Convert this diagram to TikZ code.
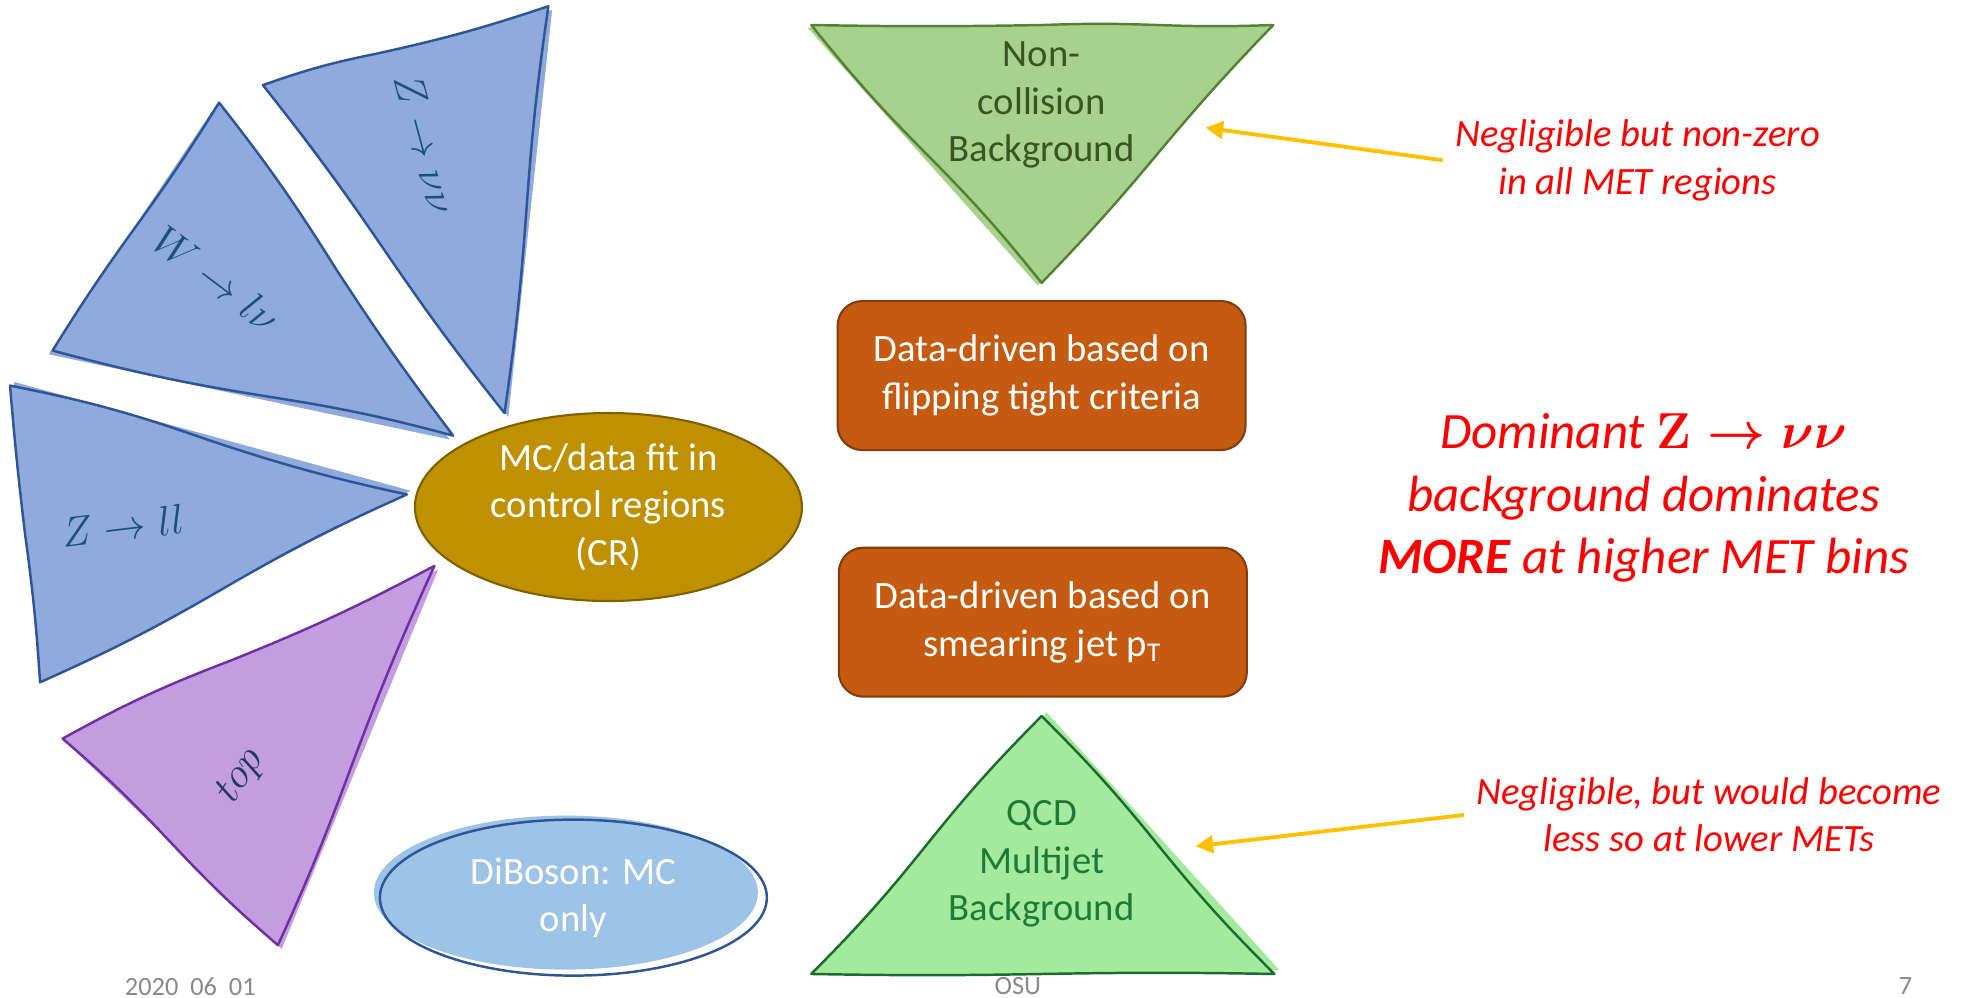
\documentclass[tikz,border=0pt]{standalone}
\usepackage{fontspec}
\setmainfont{Carlito}
\usepackage{amsmath}
\usepackage{tikz}
\usetikzlibrary{shapes.geometric,calc,arrows.meta}

\definecolor{zblue}{HTML}{8FAADC}
\definecolor{zline}{HTML}{2F5597}
\definecolor{zlabel}{HTML}{1F4E79}
\definecolor{topfill}{HTML}{C39DE0}
\definecolor{topline}{HTML}{7030A0}
\definecolor{toplabel}{HTML}{203864}
\definecolor{mcfill}{HTML}{BF9000}
\definecolor{mcline}{HTML}{7F6000}
\definecolor{dbfill}{HTML}{9DC3E6}
\definecolor{ncfill}{HTML}{A9D18E}
\definecolor{ncline}{HTML}{548235}
\definecolor{nctext}{HTML}{375623}
\definecolor{ddfill}{HTML}{C55A11}
\definecolor{ddline}{HTML}{843C0C}
\definecolor{qcdfill}{HTML}{A4EA9E}
\definecolor{qcdline}{HTML}{1E6B30}
\definecolor{qcdtext}{HTML}{1F7A38}
\definecolor{pointeryellow}{HTML}{FFC000}
\definecolor{footgray}{HTML}{898989}

\begin{document}
\begin{tikzpicture}[x=0.1252mm, y=-0.1252mm,
  sketch/.style={line width=0.7pt, line join=round},
  trilabel/.style={text=zlabel, font=\fontsize{13}{15}\selectfont},
  bodytext/.style={align=center, font=\fontsize{11}{13.5}\selectfont},
  ddbox/.style={bodytext, draw=ddline, fill=ddfill, text=white, rounded corners=7pt, minimum width=4.08cm, minimum height=1.49cm, line width=0.6pt},
  note/.style={align=center, text=red, font=\fontsize{11}{13.5}\selectfont\itshape},
  pointer/.style={pointeryellow, line width=1.1pt, -{Triangle[length=5pt,width=5pt]}},
  footer/.style={text=footgray, inner sep=0pt, font=\fontsize{7.5}{9}\selectfont}]

\useasboundingbox (0,0) rectangle (1568,797);

\coordinate (zvvA) at (210,68);  \coordinate (zvvB) at (438,5);   \coordinate (zvvC) at (403,330);
\coordinate (wlvA) at (175,82);  \coordinate (wlvB) at (362,348); \coordinate (wlvC) at (42,280);
\coordinate (zllA) at (8,308);   \coordinate (zllB) at (325,395); \coordinate (zllC) at (32,545);
\coordinate (topA) at (50,590);  \coordinate (topB) at (347,452); \coordinate (topC) at (222,755);
\coordinate (ncA) at (648,20);   \coordinate (ncB) at (1017,20);  \coordinate (ncC) at (832,226);
\coordinate (qcdA) at (832,572); \coordinate (qcdB) at (1018,778); \coordinate (qcdC) at (648,778);

\fill[zblue] ([shift={(3,3)}]zvvA) -- ([shift={(3,3)}]zvvB) -- ([shift={(3,3)}]zvvC) -- cycle;
\draw[sketch, draw=zline, fill=zblue] (zvvA) to[bend left=4] ($(zvvA)!0.4!(zvvB)$) to[bend right=3] (zvvB)
  to[bend right=2] ($(zvvB)!0.5!(zvvC)$) to[bend left=2] (zvvC)
  to[bend left=2] ($(zvvC)!0.5!(zvvA)$) to[bend right=2] (zvvA) -- cycle;
\fill[zblue] ([shift={(-3,3)}]wlvA) -- ([shift={(-3,3)}]wlvB) -- ([shift={(-3,3)}]wlvC) -- cycle;
\draw[sketch, draw=zline, fill=zblue] (wlvA) to[bend left=3] ($(wlvA)!0.5!(wlvB)$) to[bend right=2] (wlvB)
  to[bend right=3] ($(wlvB)!0.45!(wlvC)$) to[bend left=3] (wlvC)
  to[bend left=2] ($(wlvC)!0.5!(wlvA)$) to[bend right=2] (wlvA) -- cycle;
\fill[zblue] ([shift={(3,-3)}]zllA) -- ([shift={(3,-3)}]zllB) -- ([shift={(3,-3)}]zllC) -- cycle;
\draw[sketch, draw=zline, fill=zblue] (zllA) to[bend left=4] ($(zllA)!0.5!(zllB)$) to[bend right=3] (zllB)
  to[bend right=3] ($(zllB)!0.5!(zllC)$) to[bend left=3] (zllC)
  to[bend right=2] ($(zllC)!0.5!(zllA)$) to[bend left=1] (zllA) -- cycle;
\fill[topfill] ([shift={(3,3)}]topA) -- ([shift={(3,3)}]topB) -- ([shift={(3,3)}]topC) -- cycle;
\draw[sketch, draw=topline, fill=topfill] (topA) to[bend left=4] ($(topA)!0.45!(topB)$) to[bend right=3] (topB)
  to[bend right=2] ($(topB)!0.55!(topC)$) to[bend left=2] (topC)
  to[bend left=3] ($(topC)!0.5!(topA)$) to[bend right=3] (topA) -- cycle;

\node[trilabel, rotate=-75] (zvv) at (340,115) {$Z\rightarrow\nu\nu$};
\node[trilabel, rotate=-37] (wlv) at (173,223) {$W\rightarrow l\nu$};
\node[trilabel, rotate=7] (zll) at (98,420) {$Z\rightarrow ll$};
\node[trilabel, text=toplabel, rotate=56] (topmc) at (193,620) {$top$};

\node[ellipse, bodytext, draw=mcline, fill=mcfill, text=white, minimum width=3.87cm, minimum height=1.88cm, inner sep=0pt, line width=0.6pt] (mcfit) at (486,405) {MC/data fit in\\control regions\\(CR)};

\fill[dbfill] (452,713) ellipse [x radius=1.92cm, y radius=0.77cm];
\node[ellipse, bodytext, draw=zline, text=white, minimum width=3.87cm, minimum height=1.56cm, inner sep=0pt, line width=0.7pt] (dibos) at (458,717) {DiBoson: MC\\only};

\fill[ncfill] ([shift={(-3,2)}]ncA) -- ([shift={(-3,2)}]ncB) -- ([shift={(-3,2)}]ncC) -- cycle;
\draw[sketch, draw=ncline, fill=ncfill] (ncA) to[bend right=1] ($(ncA)!0.5!(ncB)$) to[bend left=2] ($(ncA)!0.75!(ncB)$) to[bend right=2] (ncB)
  to[bend right=2] ($(ncB)!0.5!(ncC)$) to[bend left=2] (ncC)
  to[bend right=3] ($(ncC)!0.5!(ncA)$) to[bend left=3] (ncA) -- cycle;
\node[bodytext, text=nctext] (noncol) at (832,84) {Non-\\collision\\Background};

\node[ddbox] (flip) at (832,300) {Data-driven based on\\flipping tight criteria};
\node[ddbox] (smear) at (833,497) {Data-driven based on\\smearing jet p\textsubscript{T}};

\fill[qcdfill] ([shift={(4,-3)}]qcdA) -- ([shift={(4,-3)}]qcdB) -- ([shift={(4,-3)}]qcdC) -- cycle;
\draw[sketch, draw=qcdline, fill=qcdfill] (qcdA) to[bend left=3] ($(qcdA)!0.5!(qcdB)$) to[bend right=3] (qcdB)
  to[bend right=1] ($(qcdB)!0.5!(qcdC)$) to[bend left=1] (qcdC)
  to[bend right=3] ($(qcdC)!0.5!(qcdA)$) to[bend left=3] (qcdA) -- cycle;
\node[bodytext, text=qcdtext] (qcd) at (832,690) {QCD\\Multijet\\Background};

\node[note] (note1) at (1308,128) {Negligible but non-zero\\in all MET regions};
\node[note] (note2) at (1365,651) {Negligible, but would become\\less so at lower METs};
\coordinate (nctip) at (963,102);
\coordinate (qcdtip) at (955,676);
\draw[pointer] (note1.west) -- (nctip);
\draw[pointer] (note2.west) -- (qcdtip);

\node[note, font=\fontsize{14.5}{17.8}\selectfont\itshape] (dominant) at (1313,398) {Dominant {\boldmath$\mathbf{Z}\rightarrow\nu\nu$}\\background dominates\\{\bfseries MORE} at higher MET bins};

\node[footer] (date) at (152,788) {2020\ \ 06\ \ 01};
\node[footer] (osu) at (813,788) {OSU};
\node[footer] (page) at (1522,788) {7};

\end{tikzpicture}
\end{document}
